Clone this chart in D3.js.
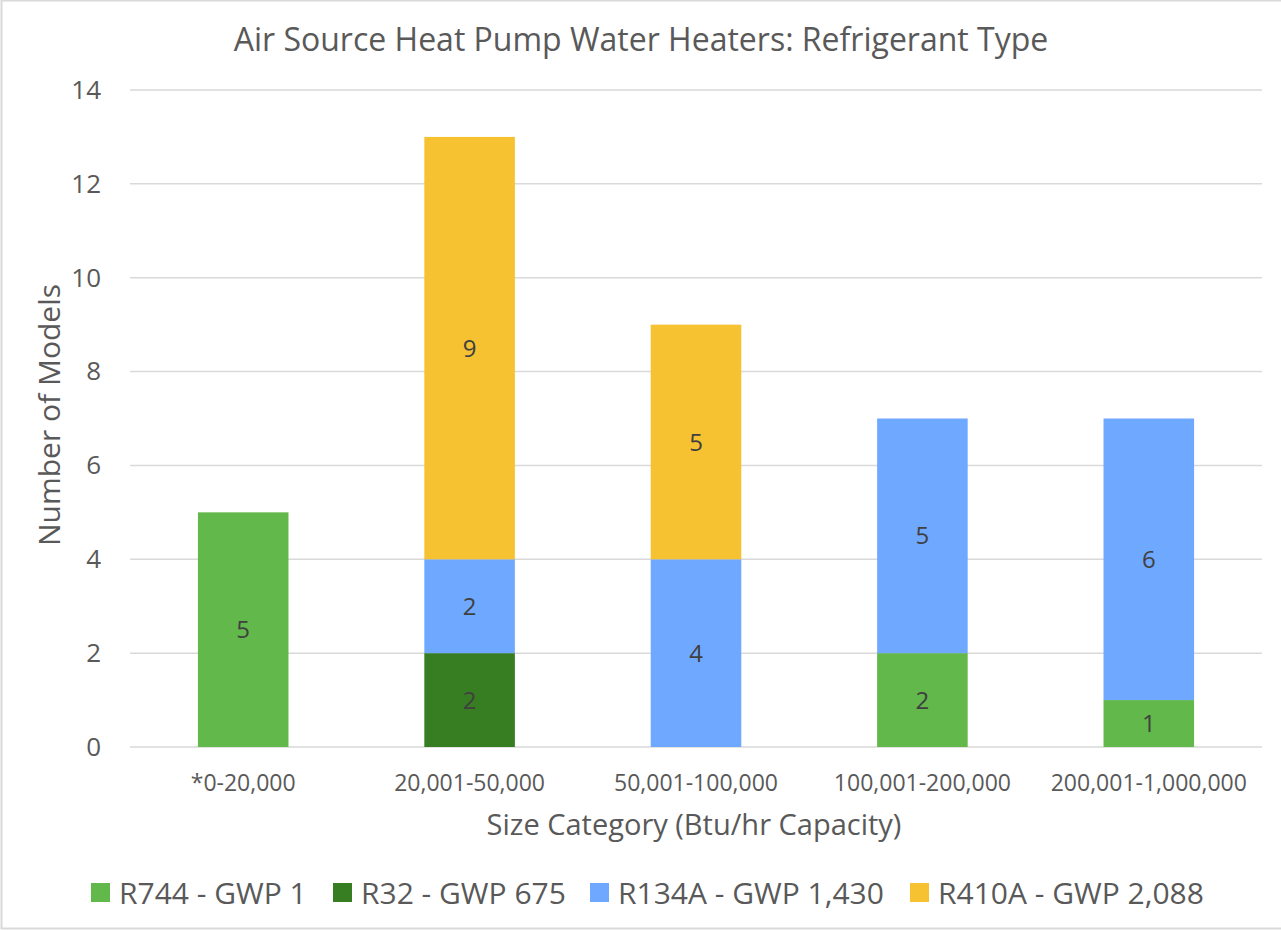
<!DOCTYPE html>
<html>
<head>
  <title>Air Source Heat Pump Water Heaters: Refrigerant Type</title>
  <script src="https://d3js.org/d3.v7.min.js"></script>
  <style>
    body { margin: 0; background: #fff; }
    svg { display: block; }
    text { font-family: "Open Sans", sans-serif; }
  </style>
</head>
<body>
  <script>
    // chart data
    const categories = ["*0-20,000", "20,001-50,000", "50,001-100,000", "100,001-200,000", "200,001-1,000,000"];
    const seriesNames = ["R744 - GWP 1", "R32 - GWP 675", "R134A - GWP 1,430", "R410A - GWP 2,088"];
    const r744 = [5, 0, 0, 2, 1];
    const r32 = [0, 2, 0, 0, 0];
    const r134a = [0, 2, 4, 5, 6];
    const r410a = [0, 9, 5, 0, 0];
    const yTicks = [0, 2, 4, 6, 8, 10, 12, 14];
    const colors = ["#62b84b", "#377d22", "#6fa8ff", "#f6c232"];

    const W = 1281, H = 930;
    const margin = { top: 90, right: 19, bottom: 183, left: 130 };
    const width = W - margin.left - margin.right;
    const height = H - margin.top - margin.bottom;

    const svg = d3.select("body").append("svg")
      .attr("width", W)
      .attr("height", H);

    // outer frame
    svg.append("rect")
      .attr("x", 1.5).attr("y", 0.5)
      .attr("width", W + 10).attr("height", 928)
      .attr("fill", "none")
      .attr("stroke", "#d9d9d9")
      .attr("stroke-width", 2);

    const g = svg.append("g")
      .attr("transform", `translate(${margin.left},${margin.top})`);

    const x = d3.scaleBand()
      .domain(categories)
      .range([0, width])
      .paddingInner(0.6)
      .paddingOuter(0.3);

    const y = d3.scaleLinear().domain([0, 14]).range([height, 0]);

    // gridlines
    g.selectAll(".grid")
      .data(yTicks)
      .enter().append("line")
      .attr("x1", 0).attr("x2", width)
      .attr("y1", d => y(d)).attr("y2", d => y(d))
      .attr("stroke", "#d9d9d9")
      .attr("stroke-width", 1.5);

    // y axis labels
    const yAxis = g.append("g")
      .call(d3.axisLeft(y).tickValues(yTicks).tickSize(0).tickPadding(29));
    yAxis.select(".domain").remove();
    yAxis.selectAll("text")
      .attr("fill", "#595959")
      .style("font-size", "26px")
      .style("font-family", "Open Sans, sans-serif");

    // stacked bars
    const rows = categories.map((c, i) => ({
      cat: c, r744: r744[i], r32: r32[i], r134a: r134a[i], r410a: r410a[i]
    }));
    const keys = ["r744", "r32", "r134a", "r410a"];
    const stacked = d3.stack().keys(keys)(rows);

    const layers = g.selectAll(".layer")
      .data(stacked)
      .enter().append("g")
      .attr("fill", (d, i) => colors[i]);

    layers.selectAll("rect")
      .data(d => d.filter(p => p[1] - p[0] > 0))
      .enter().append("rect")
      .attr("x", d => x(d.data.cat))
      .attr("width", x.bandwidth())
      .attr("y", d => y(d[1]))
      .attr("height", d => y(d[0]) - y(d[1]));

    layers.selectAll("text")
      .data(d => d.filter(p => p[1] - p[0] > 0))
      .enter().append("text")
      .attr("x", d => x(d.data.cat) + x.bandwidth() / 2)
      .attr("y", d => (y(d[0]) + y(d[1])) / 2)
      .attr("dy", "0.36em")
      .attr("text-anchor", "middle")
      .attr("fill", "#404040")
      .style("font-size", "24px")
      .text(d => d[1] - d[0]);

    // category labels
    g.selectAll(".cat")
      .data(categories)
      .enter().append("text")
      .attr("x", d => x(d) + x.bandwidth() / 2)
      .attr("y", height + 44)
      .attr("text-anchor", "middle")
      .attr("fill", "#595959")
      .style("font-size", "23px")
      .text(d => d);

    // axis titles
    svg.append("text")
      .attr("x", 694).attr("y", 835)
      .attr("text-anchor", "middle")
      .attr("fill", "#595959")
      .style("font-size", "29px")
      .text("Size Category (Btu/hr Capacity)");

    svg.append("text")
      .attr("transform", "translate(60,415) rotate(-90)")
      .attr("text-anchor", "middle")
      .attr("fill", "#595959")
      .style("font-size", "30px")
      .text("Number of Models");

    // title
    svg.append("text")
      .attr("x", 641).attr("y", 51)
      .attr("text-anchor", "middle")
      .attr("fill", "#595959")
      .style("font-size", "32px")
      .text("Air Source Heat Pump Water Heaters: Refrigerant Type");

    // legend
    const legendX = [91, 333, 590, 910];
    const legend = svg.selectAll(".legend")
      .data(seriesNames)
      .enter().append("g")
      .attr("transform", (d, i) => `translate(${legendX[i]},883)`);
    legend.append("rect")
      .attr("width", 19).attr("height", 19)
      .attr("fill", (d, i) => colors[i]);
    legend.append("text")
      .attr("x", 28).attr("y", 10)
      .attr("dy", "0.36em")
      .attr("fill", "#595959")
      .style("font-size", "30px")
      .text(d => d);
  </script>
</body>
</html>
